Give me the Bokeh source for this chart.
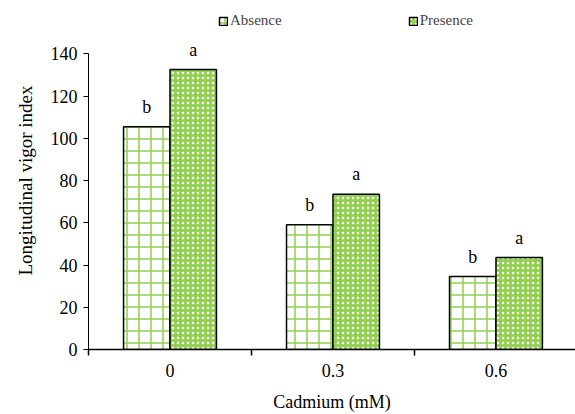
from bokeh.plotting import figure
from bokeh.models import Range1d, FixedTicker, Legend, LegendItem, ColumnDataSource, LabelSet
from bokeh.embed import file_html
from bokeh.resources import INLINE

categories = ["0", "0.3", "0.6"]
absence = [105.5, 59, 34.5]
presence = [132.5, 73.5, 43.5]
absence_letters = ["b", "b", "b"]
presence_letters = ["a", "a", "a"]

GREEN = "#92D050"
FONT = "Liberation Serif"

centers = [i + 0.5 for i in range(len(categories))]
bw = 0.285
src_a = ColumnDataSource(dict(x=[c - bw / 2 for c in centers], top=absence, lab=absence_letters))
src_p = ColumnDataSource(dict(x=[c + bw / 2 for c in centers], top=presence, lab=presence_letters))

p = figure(width=575, height=414, output_backend="svg", toolbar_location=None,
           x_range=Range1d(0, 2.988), y_range=Range1d(0, 160),
           min_border_left=88, min_border_right=0, min_border_top=11, min_border_bottom=65)
p.outline_line_color = None
p.xgrid.visible = False
p.ygrid.visible = False
p.background_fill_color = "white"

ra = p.vbar(x="x", top="top", width=bw, source=src_a, fill_color="white",
            line_color="black", line_width=1.5,
            hatch_pattern="cross", hatch_color=GREEN, hatch_scale=12, hatch_weight=1.5)
rp = p.vbar(x="x", top="top", width=bw, source=src_p, fill_color=GREEN,
            line_color="black", line_width=1.5,
            hatch_pattern="dot", hatch_color="white", hatch_scale=5, hatch_weight=1.5)

for src in (src_a, src_p):
    p.add_layout(LabelSet(x="x", y="top", text="lab", source=src, text_align="center",
                          text_baseline="bottom", y_offset=10, text_font=FONT,
                          text_font_size="18px", text_color="black"))

# axes
p.xaxis.ticker = FixedTicker(ticks=centers, minor_ticks=[0, 1, 2, 3])
p.xaxis.major_label_overrides = {c: lab for c, lab in zip(centers, categories)}
p.xaxis.major_tick_out = 0
p.xaxis.major_tick_in = 0
p.xaxis.minor_tick_out = 6
p.xaxis.minor_tick_in = 0
p.xaxis.minor_tick_line_color = "black"
p.xaxis.minor_tick_line_width = 1.5
p.xaxis.axis_line_width = 1.5
p.xaxis.axis_line_color = "black"
p.xaxis.major_label_standoff = 8
p.xaxis.axis_label = "Cadmium (mM)"
p.xaxis.axis_label_standoff = 12

p.yaxis.ticker = FixedTicker(ticks=list(range(0, 141, 20)))
p.yaxis.bounds = (0, 140)
p.yaxis.major_tick_out = 5
p.yaxis.major_tick_in = 0
p.yaxis.minor_tick_out = 0
p.yaxis.minor_tick_in = 0
p.yaxis.axis_line_color = "black"
p.yaxis.major_tick_line_color = "black"
p.yaxis.major_label_standoff = 6
p.yaxis.axis_label = "Longitudinal vigor index"
p.yaxis.axis_label_standoff = 12

for ax in (p.xaxis, p.yaxis):
    ax.major_label_text_font = FONT
    ax.major_label_text_font_size = "18px"
    ax.major_label_text_color = "black"
    ax.axis_label_text_font = FONT
    ax.axis_label_text_font_size = "18px"
    ax.axis_label_text_font_style = "normal"
    ax.axis_label_text_color = "black"
p.yaxis.axis_label_text_font_size = "19px"

legend = Legend(items=[LegendItem(label="Absence", renderers=[ra]),
                       LegendItem(label="Presence", renderers=[rp])],
                orientation="horizontal", location=(130, 320), spacing=126,
                glyph_width=10, glyph_height=10, label_text_font=FONT,
                label_text_font_size="15px", label_standoff=2,
                background_fill_alpha=0, border_line_color=None,
                padding=0, margin=0)
p.add_layout(legend, "center")

open("out.html", "w").write(file_html(p, INLINE))
